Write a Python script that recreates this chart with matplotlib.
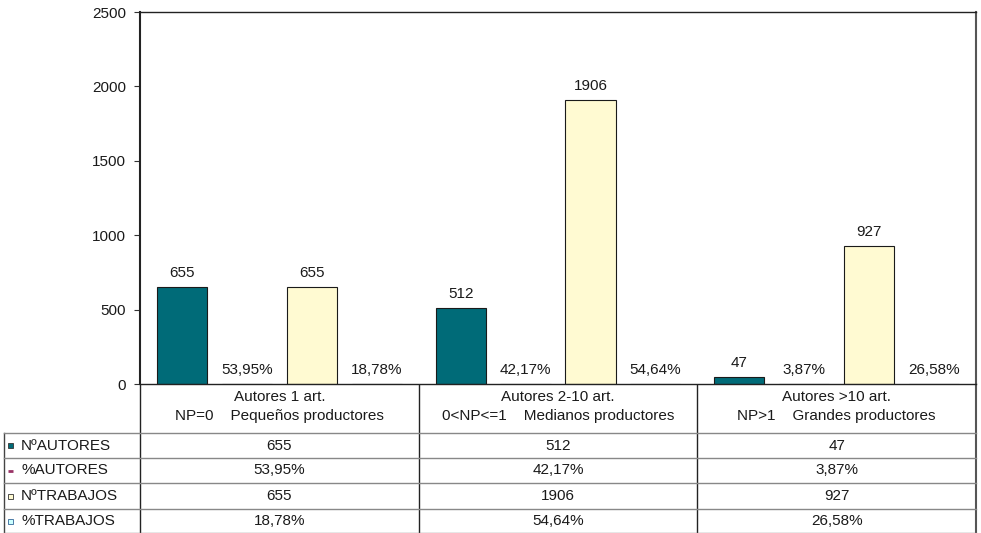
import matplotlib
matplotlib.use("Agg")
import matplotlib.pyplot as plt
import numpy as np
from matplotlib.transforms import blended_transform_factory
from matplotlib.patches import Rectangle

# ---- data ----
cat_line1 = ["Autores 1 art.", "Autores 2-10 art.", "Autores >10 art."]
cat_np = ["NP=0", "0<NP<=1", "NP>1"]
cat_prod = ["Pequeños productores", "Medianos productores", "Grandes productores"]
series_names = ["NºAUTORES", "%AUTORES", "NºTRABAJOS", "%TRABAJOS"]
n_autores = [655, 512, 47]
pct_autores = [0.5395, 0.4217, 0.0387]
n_trabajos = [655, 1906, 927]
pct_trabajos = [0.1878, 0.5464, 0.2658]
yticks = [0, 500, 1000, 1500, 2000, 2500]

plt.rcParams['font.family'] = ['Liberation Sans', 'DejaVu Sans']
FS = 11

def fmt_int(v):
    return f"{v:d}"

def fmt_pct(v):
    return f"{v*100:.2f}%".replace('.', ',')

series = [
    (n_autores, fmt_int, "#006B78", "#1a1a1a"),
    (pct_autores, fmt_pct, "#993366", "#1a1a1a"),
    (n_trabajos, fmt_int, "#FFFAD2", "#1a1a1a"),
    (pct_trabajos, fmt_pct, "#CCFFFF", "#1a1a1a"),
]

W, H = 981, 533
fig = plt.figure(figsize=(W/100, H/100), dpi=100)
ax_l, ax_r, ax_t, ax_b = 140, 976, 12, 384
ax = fig.add_axes([ax_l/W, (H-ax_b)/H, (ax_r-ax_l)/W, (ax_b-ax_t)/H])
ax.set_xlim(-0.5, 2.5)
ax.set_ylim(0, 2500)

x = np.arange(len(cat_line1))
step = 0.233
bw = 0.18
offsets = (np.arange(4) - 1.5) * step
for (vals, f, fc, ec), off in zip(series, offsets):
    bars = ax.bar(x + off, vals, width=bw, color=fc, edgecolor=ec, linewidth=0.8)
    for b, v in zip(bars, vals):
        ax.annotate(f(v), (b.get_x() + b.get_width()/2, b.get_height()),
                    xytext=(0, 5), textcoords='offset points',
                    ha='center', va='bottom', fontsize=FS, color='#1a1a1a')

ax.set_yticks(yticks)
ax.set_yticklabels([str(t) for t in yticks], fontsize=FS, color='#1a1a1a')
ax.set_xticks([])
ax.tick_params(axis='y', direction='out', length=4, width=0.8, color='#333333', pad=6)
for s in ax.spines.values():
    s.set_color('#222222')
    s.set_linewidth(1.0)
ax.spines['left'].set_linewidth(1.5)
ax.spines['right'].set_linewidth(1.5)
ax.spines['right'].set_color('#555555')

# ---- data table ----
ov = fig.add_axes([0, 0, 1, 1], zorder=-1)
ov.set_xlim(0, W)
ov.set_ylim(H, 0)
ov.axis('off')
tr = blended_transform_factory(ax.transData, ov.transData)

head_top, head_bot = ax_b, 433
row_edges = [433, 458, 483, 509, 533]
lab_left = 4

# vertical lines
for xv in [-0.5, 0.5, 1.5]:
    ov.plot([xv, xv], [head_top, H], transform=tr, color='#222222', lw=1.0, clip_on=False)
ov.plot([2.5, 2.5], [head_top, H], transform=tr, color='#555555', lw=1.5, clip_on=False)
ov.plot([lab_left, lab_left], [head_bot, H], color='#444444', lw=1.0, clip_on=False)
# horizontal lines
for yv in row_edges[:-1]:
    ov.plot([lab_left, ax_r], [yv, yv], color='#888888', lw=1.0, clip_on=False)
ov.plot([lab_left, ax_r], [H-0.5, H-0.5], color='#888888', lw=1.0, clip_on=False)

# header texts
for i in range(len(cat_line1)):
    ov.text(i, 397, cat_line1[i], transform=tr, ha='center', va='center', fontsize=FS, color='#1a1a1a')
    ov.text(i, 416, f"{cat_np[i]}    {cat_prod[i]}", transform=tr, ha='center', va='center',
            fontsize=FS, color='#1a1a1a')

# rows
for r, (name, (vals, f, fc, ec)) in enumerate(zip(series_names, series)):
    yc = (row_edges[r] + row_edges[r+1]) / 2
    if r == 1:
        ov.plot([8, 13], [yc, yc], color=fc, lw=2, solid_capstyle='butt')
    else:
        ov.add_patch(Rectangle((8, yc-2.5), 5, 5, facecolor=fc,
                               edgecolor='#333333' if r != 3 else '#336699', lw=0.6))
    ov.text(21, yc, name, ha='left', va='center', fontsize=FS, color='#1a1a1a')
    for i, v in enumerate(vals):
        ov.text(i, yc, f(v), transform=tr, ha='center', va='center', fontsize=FS, color='#1a1a1a')

fig.savefig("out.png", dpi=100)
